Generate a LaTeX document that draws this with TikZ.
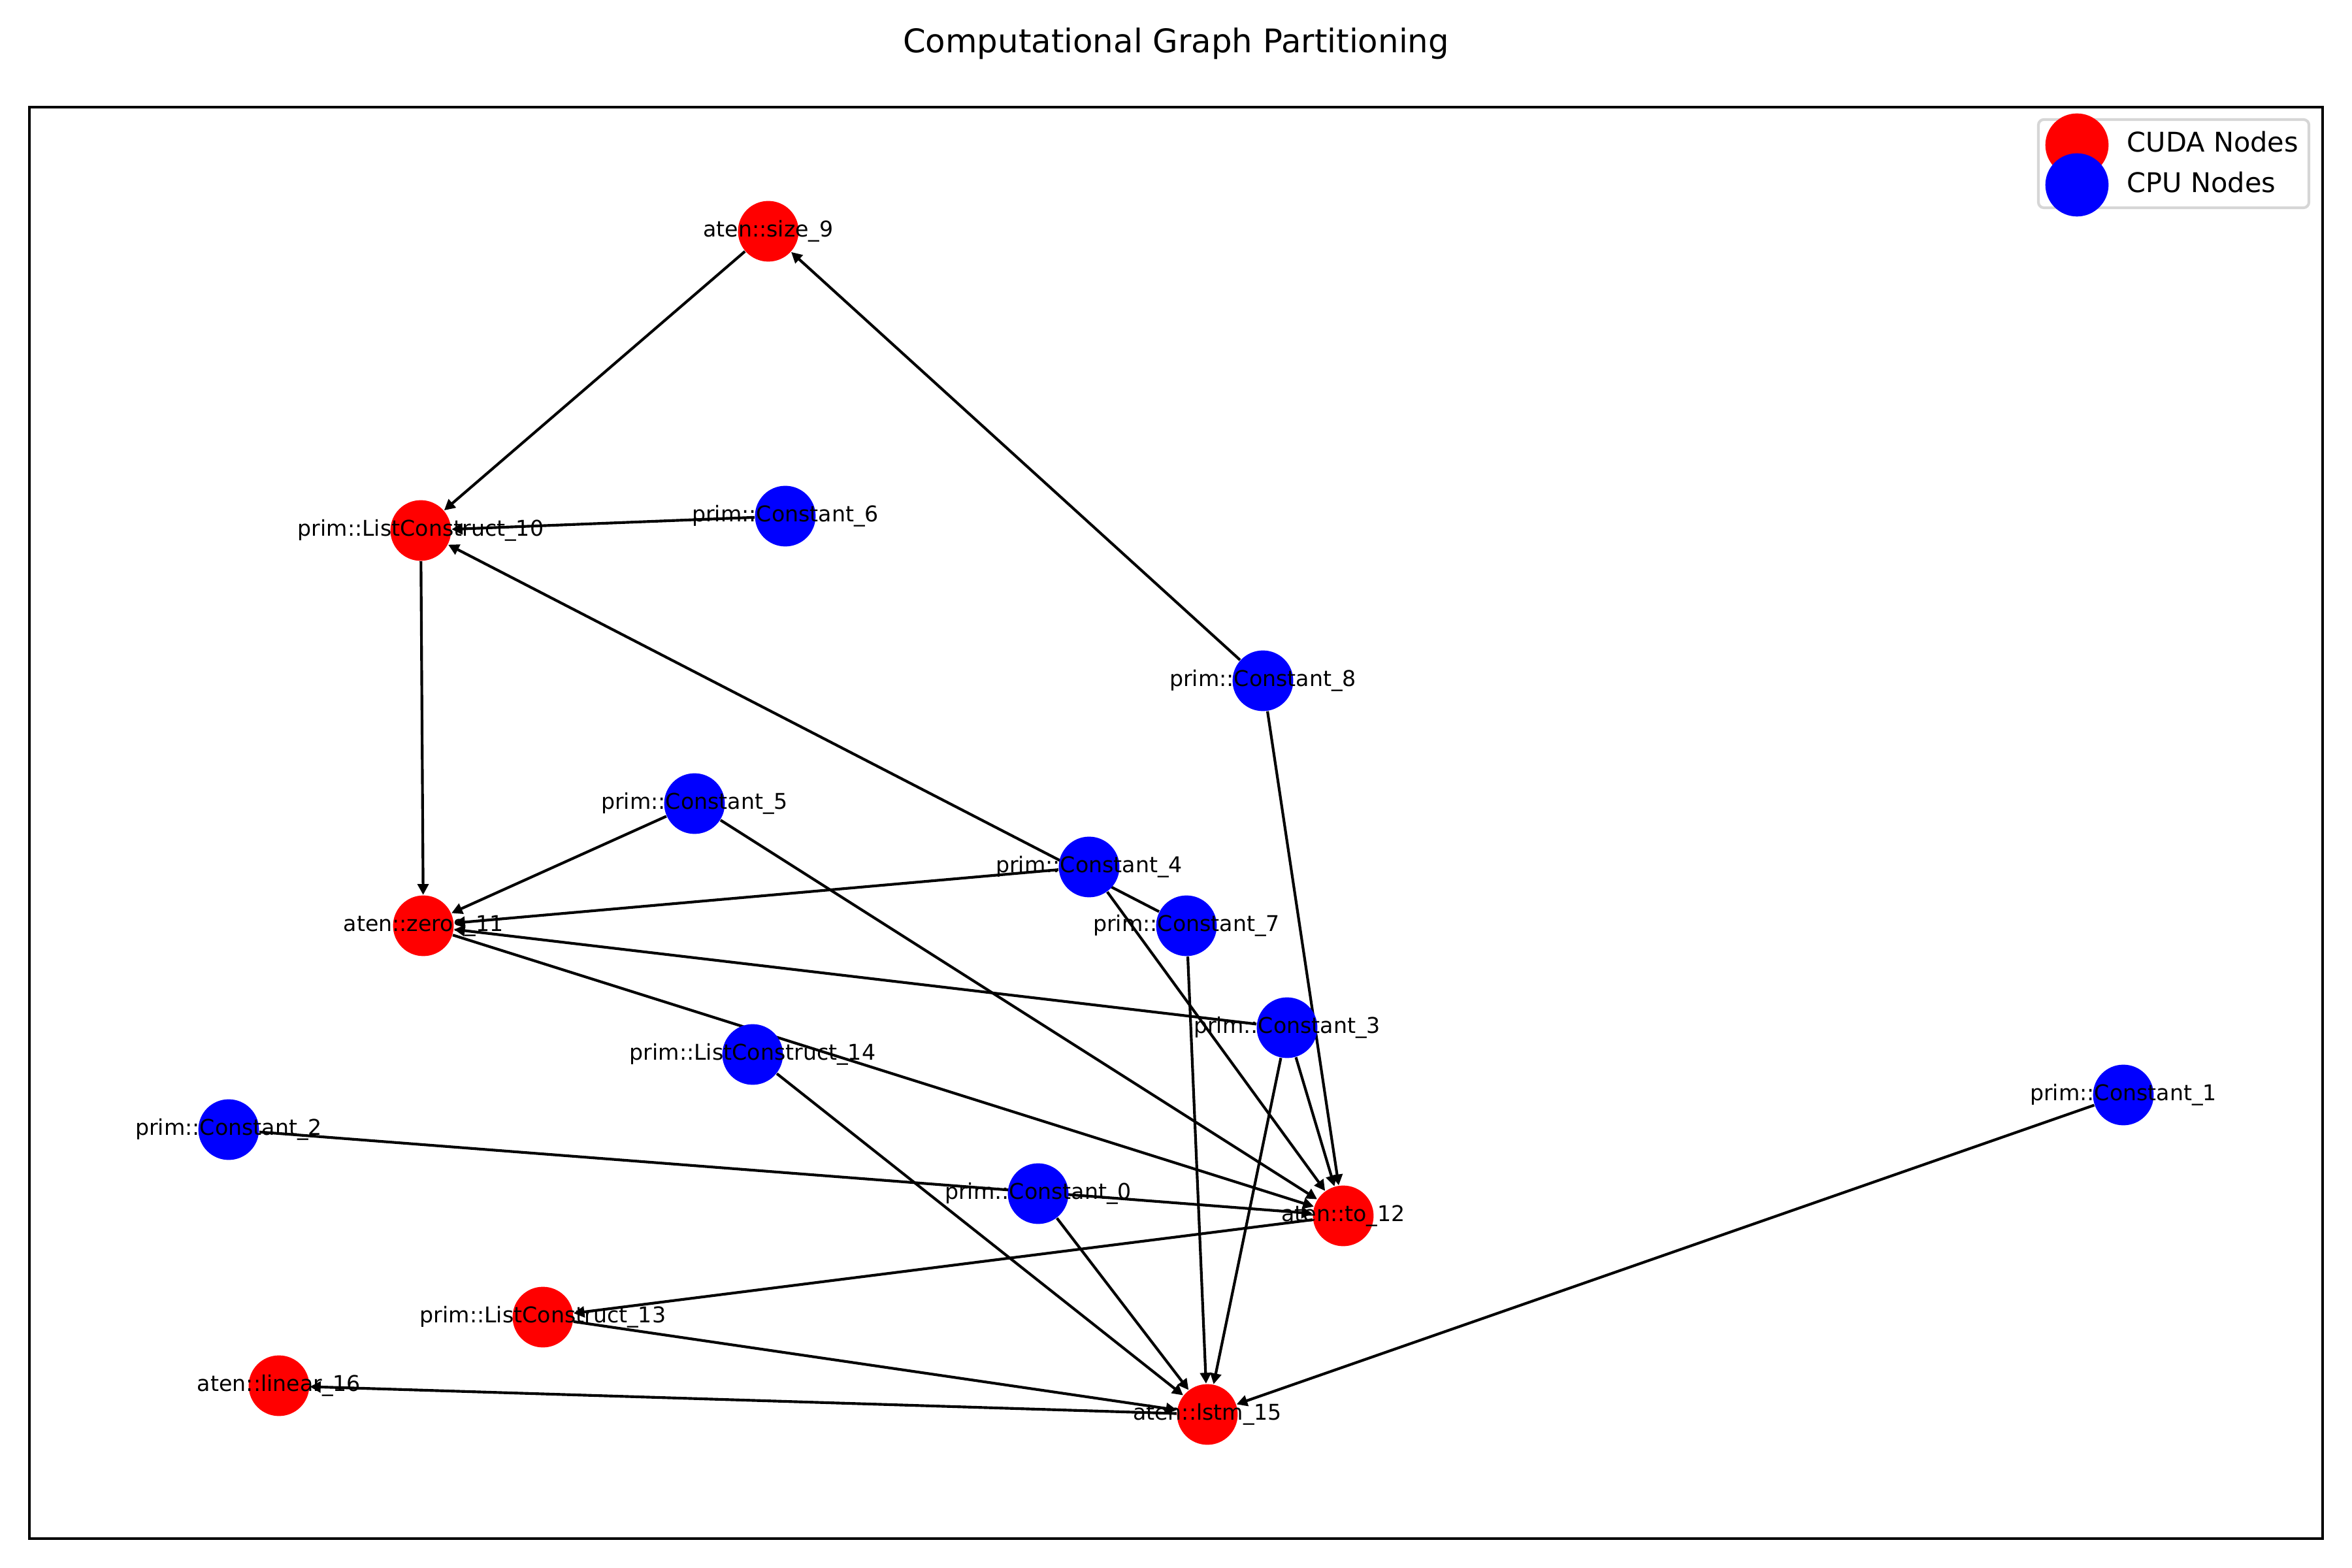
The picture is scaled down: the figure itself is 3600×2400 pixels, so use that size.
\documentclass[tikz,border=0pt]{standalone}
\usepackage{fontspec}
\setmainfont{DejaVu Sans}
\usetikzlibrary{arrows.meta}
\pgfdeclarelayer{archi}
\pgfsetlayers{archi,main}

\tikzset{
    cuda/.style={circle, fill=red, minimum size=22.36pt, inner sep=0pt},
    cpu/.style={circle, fill=blue, minimum size=22.36pt, inner sep=0pt},
    etich/.style={font=\fontsize{8}{9.6}\selectfont},
    freccia/.style={-{Triangle[length=4pt,width=4pt]}, line width=1pt}
}
\definecolor{bordolegenda}{RGB}{214,214,214}

\begin{document}
\begin{tikzpicture}[x=0.084667mm, y=-0.084667mm]
        \useasboundingbox (0,0) rectangle (3600,2400);
        % Titolo
        \node[anchor=base, font=\fontsize{12}{14.4}\selectfont] (titolo) at (1800,81) {Computational Graph Partitioning};
        % Cornice
        \draw[line width=0.8pt] (45,164) rectangle (3555,2355);
        % Nodi CUDA
        \node[cuda, label={[etich]center:aten::size\_9}] (size9) at (1176,354) {};
        \node[cuda, label={[etich]center:prim::ListConstruct\_10}] (lc10) at (644,812) {};
        \node[cuda, label={[etich]center:aten::zeros\_11}] (zeros11) at (648,1417) {};
        \node[cuda, label={[etich]center:aten::to\_12}] (to12) at (2056,1861) {};
        \node[cuda, label={[etich]center:prim::ListConstruct\_13}] (lc13) at (831,2016) {};
        \node[cuda, label={[etich]center:aten::lstm\_15}] (lstm15) at (1848,2165) {};
        \node[cuda, label={[etich]center:aten::linear\_16}] (linear16) at (427,2121) {};
        % Nodi CPU
        \node[cpu, label={[etich]center:prim::Constant\_0}] (c0) at (1589,1827) {};
        \node[cpu, label={[etich]center:prim::Constant\_1}] (c1) at (3250,1676) {};
        \node[cpu, label={[etich]center:prim::Constant\_2}] (c2) at (350,1729) {};
        \node[cpu, label={[etich]center:prim::Constant\_3}] (c3) at (1970,1573) {};
        \node[cpu, label={[etich]center:prim::Constant\_4}] (c4) at (1667,1327) {};
        \node[cpu, label={[etich]center:prim::Constant\_5}] (c5) at (1063,1230) {};
        \node[cpu, label={[etich]center:prim::Constant\_6}] (c6) at (1202,790) {};
        \node[cpu, label={[etich]center:prim::Constant\_7}] (c7) at (1816,1417) {};
        \node[cpu, label={[etich]center:prim::Constant\_8}] (c8) at (1933,1042) {};
        \node[cpu, label={[etich]center:prim::ListConstruct\_14}] (lc14) at (1152,1614) {};
        % Archi
        \begin{pgfonlayer}{archi}
        \foreach \a/\b in {size9/lc10, c6/lc10, c7/lc10, c8/size9,
            lc10/zeros11, c5/zeros11, c4/zeros11, c3/zeros11,
            zeros11/to12, c5/to12, c4/to12, c8/to12, c3/to12, c2/to12,
            to12/lc13, lc13/lstm15, lc14/lstm15, c0/lstm15, c7/lstm15,
            c3/lstm15, c1/lstm15, lstm15/linear16}
            \draw[freccia] (\a) -- (\b);
        \end{pgfonlayer}
        % Legenda
        \draw[bordolegenda, line width=1pt, rounded corners=2pt] (3120,183) rectangle (3534,318);
        \node[cuda, minimum size=23.3pt] (legcuda) at (3179,222) {};
        \node[cpu, minimum size=23.3pt] (legcpu) at (3179,283) {};
        \node[anchor=base west, inner sep=0pt, font=\fontsize{10}{12}\selectfont] (txtcuda) at (3255,233) {CUDA Nodes};
        \node[anchor=base west, inner sep=0pt, font=\fontsize{10}{12}\selectfont] (txtcpu) at (3255,295) {CPU Nodes};
    \end{tikzpicture}
\end{document}
